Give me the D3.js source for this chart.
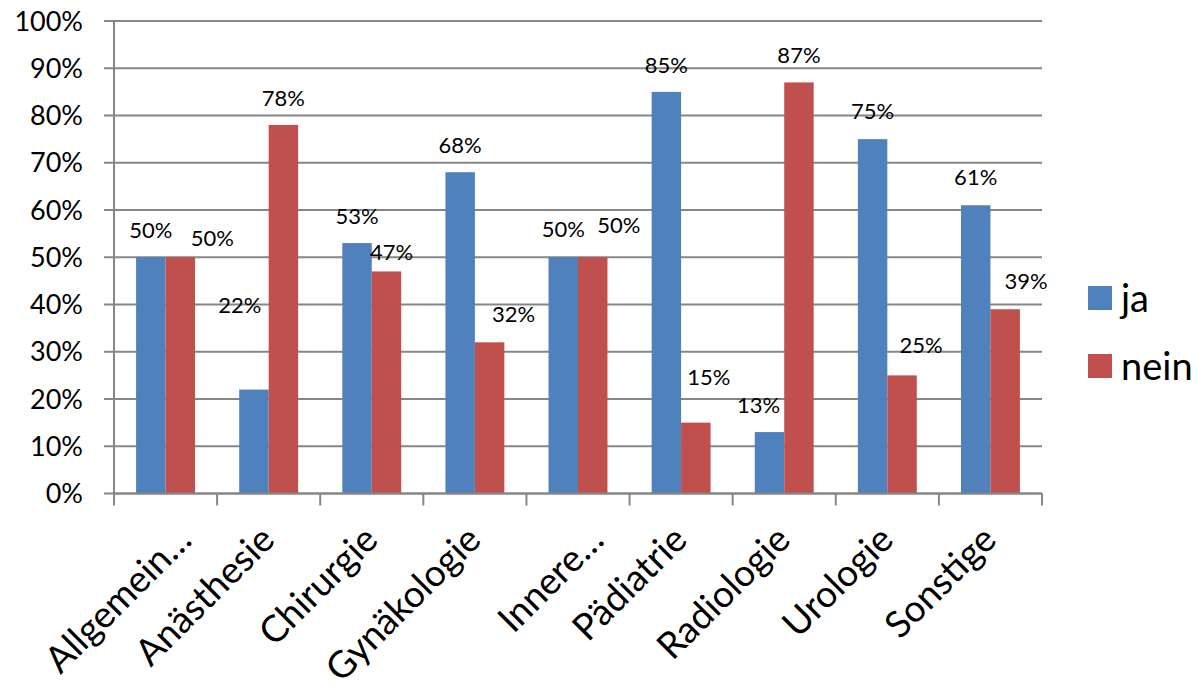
<!DOCTYPE html>
<html>
<head>
<meta charset="utf-8">
<script src="https://cdn.jsdelivr.net/npm/d3@7"></script>
<style>
  html, body { margin: 0; padding: 0; background: #fff; }
  svg { display: block; font-family: Lato, "Open Sans", sans-serif; }
</style>
</head>
<body>
<svg id="chart" width="1198" height="697"></svg>
<script>
// Fachrichtungen (category axis)
const categories = ["Allgemein…", "Anästhesie", "Chirurgie", "Gynäkologie", "Innere…",
                    "Pädiatrie", "Radiologie", "Urologie", "Sonstige"];
// Anteil der Antworten in Prozent
const ja   = [50, 22, 53, 68, 50, 85, 13, 75, 61];
const nein = [50, 78, 47, 32, 50, 15, 87, 25, 39];
const seriesNames = ["ja", "nein"];
const yTicks = [0, 10, 20, 30, 40, 50, 60, 70, 80, 90, 100];

// Layout
const colors = { ja: "#4F81BD", nein: "#C0504D" };
const gridColor = "#868686";
const plot = { left: 114, right: 1042, top: 21, bottom: 493.5 };

// Hand-placed data label nudges (px) where labels were moved off the default spot
const labelNudge = {
  ja:   [[0, 0], [-14, -58], [0, 0], [0, 0], [0, -1], [0, 0], [-11, 0], [0, -1], [0, -1]],
  nein: [[32, 8], [0, 0], [5, 8], [24, -1], [26, -5], [13, -19], [0, 0], [19, -3], [21, -1]]
};

const svg = d3.select("#chart");

const x0 = d3.scaleBand().domain(categories).range([plot.left, plot.right]).paddingInner(0).paddingOuter(0);
const catW = x0.bandwidth();
// Two bars per category with a gap of 1.5 bar widths
const barW = catW / 3.5;
const x1 = d3.scaleBand().domain(seriesNames).range([0.75 * barW, 2.75 * barW]).padding(0);
const y = d3.scaleLinear().domain([0, 100]).range([plot.bottom, plot.top]);

// Horizontal gridlines (extend left as ticks)
svg.append("g").selectAll("line").data(yTicks).join("line")
  .attr("x1", plot.left - 10).attr("x2", plot.right)
  .attr("y1", d => y(d)).attr("y2", d => y(d))
  .attr("stroke", gridColor).attr("stroke-width", 2);

// Y axis tick labels
svg.append("g").selectAll("text").data(yTicks).join("text")
  .attr("x", 83).attr("y", d => y(d))
  .attr("dy", "0.36em")
  .attr("text-anchor", "end")
  .attr("font-size", 27).attr("fill", "#000")
  .text(d => d + "%");

// Bars
const rows = categories.map((c, i) => ({ cat: c, i, ja: ja[i], nein: nein[i] }));
const groups = svg.append("g").selectAll("g").data(rows).join("g")
  .attr("transform", d => `translate(${x0(d.cat)},0)`);

groups.selectAll("rect").data(d => seriesNames.map(s => ({ s, v: d[s] }))).join("rect")
  .attr("x", d => x1(d.s))
  .attr("width", x1.bandwidth())
  .attr("y", d => y(d.v))
  .attr("height", d => y(0) - y(d.v))
  .attr("fill", d => colors[d.s]);

// Axis lines
svg.append("line")
  .attr("x1", plot.left).attr("x2", plot.left)
  .attr("y1", plot.top).attr("y2", plot.bottom)
  .attr("stroke", gridColor).attr("stroke-width", 2);
svg.append("line")
  .attr("x1", plot.left).attr("x2", plot.right)
  .attr("y1", plot.bottom).attr("y2", plot.bottom)
  .attr("stroke", gridColor).attr("stroke-width", 2);

// Category tick marks at boundaries
const bounds = categories.map(c => x0(c)).concat([plot.right]);
svg.append("g").selectAll("line").data(bounds).join("line")
  .attr("x1", d => d).attr("x2", d => d)
  .attr("y1", plot.bottom).attr("y2", plot.bottom + 12)
  .attr("stroke", gridColor).attr("stroke-width", 2);

// Data labels
groups.selectAll("text").data(d => seriesNames.map(s => ({ s, v: d[s], i: d.i }))).join("text")
  .attr("x", d => x1(d.s) + x1.bandwidth() / 2 + labelNudge[d.s][d.i][0])
  .attr("y", d => y(d.v) - 19 + labelNudge[d.s][d.i][1])
  .attr("text-anchor", "middle")
  .attr("font-size", 22).attr("fill", "#000")
  .text(d => d.v + "%");

// Rotated category labels
svg.append("g").selectAll("text").data(categories).join("text")
  .attr("transform", d => {
    const cx = x0(d) + catW / 2 + 8 + (d.endsWith("…") ? 20 : 0);
    return `translate(${cx},542) rotate(-45)`;
  })
  .attr("text-anchor", "end")
  .attr("font-size", 37).attr("fill", "#000")
  .text(d => d);

// Legend
const legend = svg.append("g").selectAll("g").data(seriesNames).join("g")
  .attr("transform", (d, i) => `translate(1088,${286 + i * 68})`);
legend.append("rect").attr("width", 24).attr("height", 24).attr("fill", d => colors[d]);
legend.append("text")
  .attr("x", 33).attr("y", 12).attr("dy", "0.36em")
  .attr("font-size", 38).attr("fill", "#000")
  .text(d => d);
</script>
</body>
</html>
